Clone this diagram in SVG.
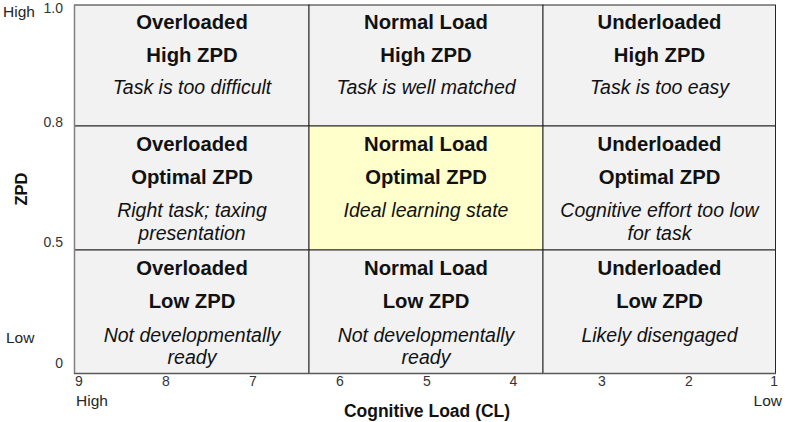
<svg xmlns="http://www.w3.org/2000/svg" width="785" height="422" viewBox="0 0 785 422">
<style>
text{font-family:"Liberation Sans",Arial,sans-serif;}
.cell{fill:#f2f2f2;stroke:#262626;stroke-width:1;}
.hi{fill:#ffffcc;}
.b{font-weight:bold;font-size:20.3px;fill:#111;text-anchor:middle;}
.i{font-style:italic;font-size:19.5px;fill:#111;text-anchor:middle;}
.tk{font-size:14px;fill:#333333;}
.ax{font-size:15.5px;fill:#262626;}
.at{font-weight:bold;font-size:16.5px;fill:#111;}
.xt{font-size:17.5px;}
</style>
<rect width="785" height="422" fill="#ffffff"/>
<g id="cell-over-high"><rect class="cell" x="74.5" y="5" width="234.5" height="121"/><text class="b" x="192" y="29">Overloaded</text><text class="b" x="192" y="62">High ZPD</text><text class="i" x="192" y="94">Task is too difficult</text></g>
<g id="cell-normal-high"><rect class="cell" x="309" y="5" width="234" height="121"/><text class="b" x="426" y="29">Normal Load</text><text class="b" x="426" y="62">High ZPD</text><text class="i" x="426" y="94">Task is well matched</text></g>
<g id="cell-under-high"><rect class="cell" x="543" y="5" width="232.5" height="121"/><text class="b" x="659.5" y="29">Underloaded</text><text class="b" x="659.5" y="62">High ZPD</text><text class="i" x="659.5" y="94">Task is too easy</text></g>
<g id="cell-over-opt"><rect class="cell" x="74.5" y="126" width="234.5" height="124"/><text class="b" x="192" y="151">Overloaded</text><text class="b" x="192" y="184">Optimal ZPD</text><text class="i" x="192" y="217">Right task; taxing</text><text class="i" x="192" y="240">presentation</text></g>
<g id="cell-normal-opt"><rect class="cell hi" x="309" y="126" width="234" height="124"/><text class="b" x="426" y="151">Normal Load</text><text class="b" x="426" y="184">Optimal ZPD</text><text class="i" x="426" y="217">Ideal learning state</text></g>
<g id="cell-under-opt"><rect class="cell" x="543" y="126" width="232.5" height="124"/><text class="b" x="659.5" y="151">Underloaded</text><text class="b" x="659.5" y="184">Optimal ZPD</text><text class="i" x="659.5" y="217">Cognitive effort too low</text><text class="i" x="659.5" y="240">for task</text></g>
<g id="cell-over-low"><rect class="cell" x="74.5" y="250" width="234.5" height="123.5"/><text class="b" x="192" y="275">Overloaded</text><text class="b" x="192" y="308">Low ZPD</text><text class="i" x="192" y="341.5">Not developmentally</text><text class="i" x="192" y="364">ready</text></g>
<g id="cell-normal-low"><rect class="cell" x="309" y="250" width="234" height="123.5"/><text class="b" x="426" y="275">Normal Load</text><text class="b" x="426" y="308">Low ZPD</text><text class="i" x="426" y="341.5">Not developmentally</text><text class="i" x="426" y="364">ready</text></g>
<g id="cell-under-low"><rect class="cell" x="543" y="250" width="232.5" height="123.5"/><text class="b" x="659.5" y="275">Underloaded</text><text class="b" x="659.5" y="308">Low ZPD</text><text class="i" x="659.5" y="341.5">Likely disengaged</text></g>
<g id="axes">
<line x1="74.5" y1="5" x2="74.5" y2="374" stroke="#808080" stroke-width="1.5"/>
<line x1="74" y1="373.5" x2="776" y2="373.5" stroke="#595959" stroke-width="1.5"/>
</g>
<g id="y-axis-labels">
<text class="tk" x="63" y="13" text-anchor="end">1.0</text>
<text class="tk" x="63" y="126.5" text-anchor="end">0.8</text>
<text class="tk" x="63" y="247" text-anchor="end">0.5</text>
<text class="tk" x="63" y="368" text-anchor="end">0</text>
<text class="ax" x="3" y="17">High</text>
<text class="ax" x="6" y="343">Low</text>
<text class="at" transform="translate(26.5,189) rotate(-90)" text-anchor="middle">ZPD</text>
</g>
<g id="x-axis-labels">
<text class="tk" x="75" y="385.5">9</text>
<text class="tk" x="166" y="385.5" text-anchor="middle">8</text>
<text class="tk" x="253" y="385.5" text-anchor="middle">7</text>
<text class="tk" x="340" y="385.5" text-anchor="middle">6</text>
<text class="tk" x="427" y="385.5" text-anchor="middle">5</text>
<text class="tk" x="513.5" y="385.5" text-anchor="middle">4</text>
<text class="tk" x="602" y="385.5" text-anchor="middle">3</text>
<text class="tk" x="689" y="385.5" text-anchor="middle">2</text>
<text class="tk" x="778" y="385.5" text-anchor="end">1</text>
<text class="ax" x="76" y="406">High</text>
<text class="ax" x="782" y="406" text-anchor="end">Low</text>
<text class="at xt" x="427" y="417" text-anchor="middle">Cognitive Load (CL)</text>
</g>
</svg>
